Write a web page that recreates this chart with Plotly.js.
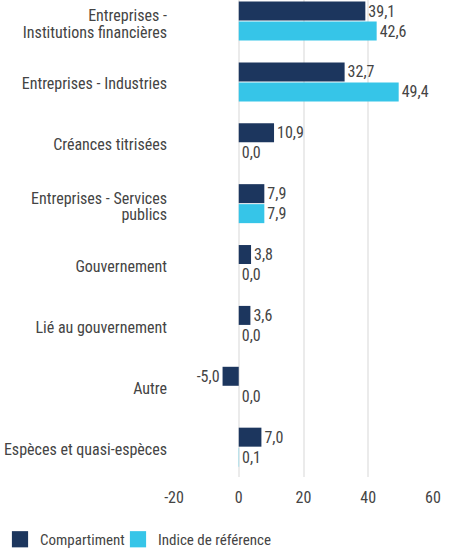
<!DOCTYPE html>
<html>
<head>
<meta charset="utf-8">
<script src="https://cdn.plot.ly/plotly-3.0.1.min.js"></script>
<style>html,body{margin:0;padding:0;background:#fff;}#chart{width:453px;height:554px;}</style>
</head>
<body>
<div id="chart"></div>
<script>
const categories = [
  "Entreprises -<br>Institutions financières",
  "Entreprises - Industries",
  "Créances titrisées",
  "Entreprises - Services<br>publics",
  "Gouvernement",
  "Lié au gouvernement",
  "Autre",
  "Espèces et quasi-espèces"
];
const compartiment = [39.1, 32.7, 10.9, 7.9, 3.8, 3.6, -5.0, 7.0];
const indice = [42.6, 49.4, 0.0, 7.9, 0.0, 0.0, 0.0, 0.1];
const xTicks = [-20, 0, 20, 40, 60];
const xTickText = ["-20", "0", "20", "40", "60"];
const seriesNames = ["Compartiment", "Indice de référence"];

const FONT = '"Roboto Condensed", "DejaVu Sans Condensed", sans-serif';
const TXT = '#444444';
const F = {family:FONT, size:16, color:TXT};
const FL = {family:FONT, size:15, color:TXT};

const traces = [
  {type:'bar', orientation:'h', name:seriesNames[0], y:categories, x:compartiment,
   marker:{color:'#1c365e'}, texttemplate:'%{x:.1f}', textposition:'outside',
   constraintext:'none', textfont:F, cliponaxis:false, hoverinfo:'x+y', legend:'legend'},
  {type:'bar', orientation:'h', name:seriesNames[1], y:categories, x:indice,
   marker:{color:'#36c5e8'}, texttemplate:'%{x:.1f}', textposition:'outside',
   constraintext:'none', textfont:F, cliponaxis:false, hoverinfo:'x+y', legend:'legend2'}
];

const PW = 259, PH = 477, ML = 174;
const legY = (PH - 553) / PH;

const layout = {
  width:453, height:554,
  margin:{l:ML, r:20, t:0, b:77},
  paper_bgcolor:'#fff', plot_bgcolor:'#fff',
  separators:', ',
  barmode:'group', bargap:0.343, bargroupgap:0.05,
  font:F,
  xaxis:{range:[-20,60], tickvals:xTicks, ticktext:xTickText, showgrid:true, gridcolor:'#ebebeb', gridwidth:2,
         zeroline:false, showline:false, ticks:'', ticklabelstandoff:9, tickfont:F},
  yaxis:{type:'category', range:[7.49,-0.345], showgrid:false, zeroline:false, showline:false,
         ticks:'', ticklabelstandoff:6, tickfont:F},
  showlegend:true,
  legend:{orientation:'h', x:(0-ML)/PW, xanchor:'left', y:legY, yanchor:'bottom', font:FL,
          bgcolor:'rgba(0,0,0,0)'},
  legend2:{orientation:'h', x:(118-ML)/PW, xanchor:'left', y:legY, yanchor:'bottom', font:FL,
          bgcolor:'rgba(0,0,0,0)'}
};

Plotly.newPlot('chart', traces, layout, {displayModeBar:false, staticPlot:true}).then(function(){
  document.querySelectorAll('.legendpoints path').forEach(function(p){
    var old = p.getAttribute('transform') || '';
    p.setAttribute('transform', old + ' scale(1.35)');
  });
  document.querySelectorAll('g.legend, g.legend2').forEach(function(g){
    var old = g.getAttribute('transform') || '';
    g.setAttribute('transform', old + ' translate(0,3)');
  });
  document.querySelectorAll('.ytick text').forEach(function(t){
    var ls = t.querySelectorAll('tspan.line');
    if (ls.length > 1) {
      ls[1].setAttribute('dy','1.03em');
      t.parentNode.setAttribute('transform','translate(0,5)');
    } else {
      t.parentNode.setAttribute('transform','translate(0,2)');
    }
  });
});
</script>
</body>
</html>
